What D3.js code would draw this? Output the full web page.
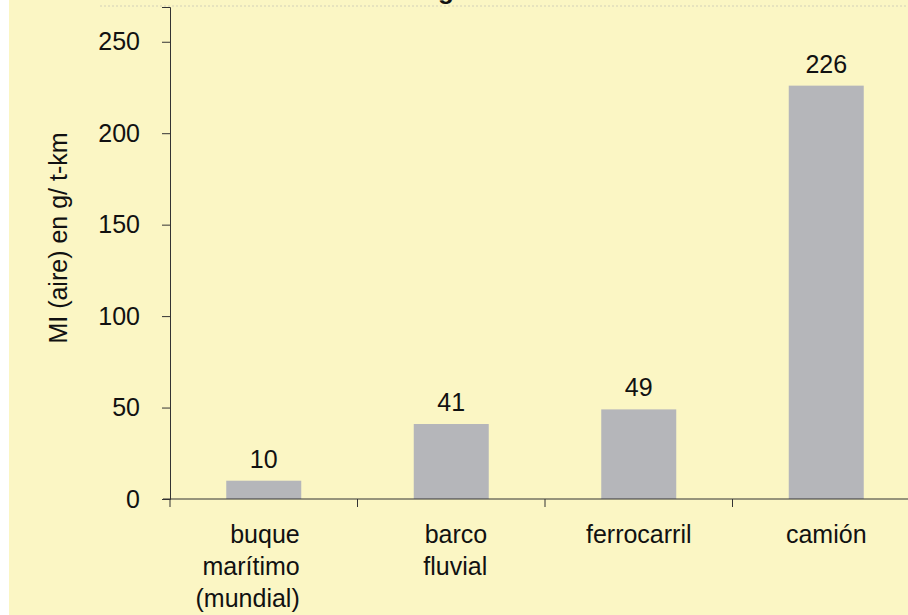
<!DOCTYPE html>
<html>
<head>
<meta charset="utf-8">
<script src="https://cdn.jsdelivr.net/npm/d3@7"></script>
<style>
  body { margin: 0; background: #fff; }
  svg { display: block; }
  text { font-family: "Liberation Sans", Arial, sans-serif; fill: #111; }
</style>
</head>
<body>
<svg id="chart" width="908" height="615"></svg>
<script>
// data
const categories = ["buque marítimo (mundial)", "barco fluvial", "ferrocarril", "camión"];
const catLines = [["buque", "marítimo", "(mundial)"], ["barco", "fluvial"], ["ferrocarril"], ["camión"]];
const values = [10, 41, 49, 226];
const yTicks = [0, 50, 100, 150, 200, 250];
const yTitle = "MI (aire) en g/ t-km";

const svg = d3.select("#chart"),
    width = +svg.attr("width"),
    height = +svg.attr("height");

// pale yellow page, white strip on the left
svg.append("rect")
    .attr("x", 9).attr("y", 0)
    .attr("width", width - 9).attr("height", height)
    .attr("fill", "#fbf6c4");

// bottom of the cut-off title
svg.append("line")
    .attr("x1", 100).attr("x2", width)
    .attr("y1", 6).attr("y2", 6)
    .style("stroke", "#d2d0b8")
    .style("stroke-dasharray", "2,2")
    .style("stroke-width", 1);
svg.append("text")
    .attr("x", 446).attr("y", -1)
    .attr("text-anchor", "middle")
    .style("font-size", "26px")
    .style("font-weight", "bold")
    .text("g");

const left = 170, bottom = 499;

const x = d3.scaleBand()
    .domain(categories)
    .range([left, left + 4 * 187.5])
    .paddingInner(0.6)
    .paddingOuter(0.3);

const y = d3.scaleLinear()
    .domain([0, 269])
    .range([bottom, 7]);

// bars
svg.append("g")
    .selectAll("rect")
    .data(values)
    .join("rect")
      .attr("x", (d, i) => x(categories[i]))
      .attr("y", d => y(d))
      .attr("width", x.bandwidth())
      .attr("height", d => y(0) - y(d))
      .attr("fill", "#b5b6ba");

// value labels
svg.append("g")
    .selectAll("text")
    .data(values)
    .join("text")
      .attr("x", (d, i) => x(categories[i]) + x.bandwidth() / 2)
      .attr("y", d => y(d) - 13)
      .attr("text-anchor", "middle")
      .style("font-size", "25px")
      .text(d => d);

// y axis
const yAxis = svg.append("g")
    .attr("transform", `translate(${left},0)`)
    .call(d3.axisLeft(y).tickValues(yTicks).tickSize(8).tickPadding(22));
yAxis.select(".domain").attr("stroke", "#333");
yAxis.selectAll(".tick line").attr("stroke", "#333");
yAxis.selectAll(".tick text")
    .style("font-size", "25px")
    .attr("fill", "#111")
    .attr("font-family", null);

// x axis line with ticks between categories
svg.append("line")
    .attr("x1", left - 7).attr("x2", width)
    .attr("y1", bottom).attr("y2", bottom)
    .style("stroke", "#333");
const step = x.step();
const bounds = d3.range(4).map(i => left + i * step);
svg.append("g")
    .selectAll("line")
    .data(bounds)
    .join("line")
      .attr("x1", d => d).attr("x2", d => d)
      .attr("y1", bottom).attr("y2", bottom + 8)
      .style("stroke", "#333");

// category labels (multi-line ones are right aligned)
svg.append("g")
    .selectAll("text")
    .data(catLines)
    .join("text")
      .attr("text-anchor", d => d.length > 1 ? "end" : "middle")
      .style("font-size", "25px")
      .each(function(lines, i) {
        const cx = x(categories[i]) + x.bandwidth() / 2;
        const ax = lines.length > 1 ? cx + 36 : cx;
        d3.select(this).selectAll("tspan")
          .data(lines)
          .join("tspan")
            .attr("x", ax)
            .attr("y", (d, j) => 543 + j * 32)
            .text(d => d);
      });

// y axis title
svg.append("text")
    .attr("transform", "translate(67,238) rotate(-90)")
    .attr("text-anchor", "middle")
    .style("font-size", "25px")
    .text(yTitle);
</script>
</body>
</html>
